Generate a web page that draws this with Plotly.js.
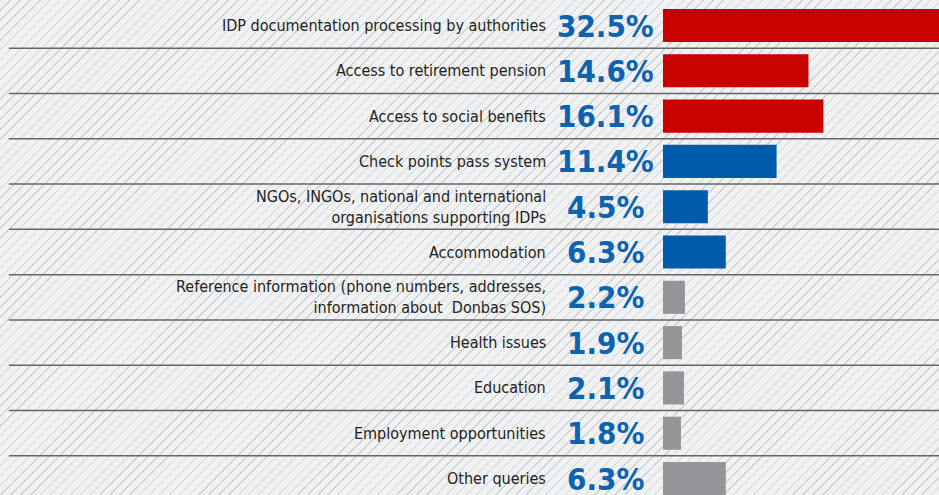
<!DOCTYPE html>
<html>
<head>
<meta charset="utf-8">
<script src="https://cdn.plot.ly/plotly-3.0.1.min.js"></script>
<style>
  html, body { margin: 0; padding: 0; }
  #plot {
    width: 939px;
    height: 495px;
    background-color: #f0f1f3;
    background-image: repeating-linear-gradient(135deg, #cfd0d2 0px, #cfd0d2 1px, rgba(0,0,0,0) 1px, rgba(0,0,0,0) 7px);
  }
</style>
</head>
<body>
<div id="plot"></div>
<script>
// topics of queries, top to bottom
const topics = [
  'IDP documentation processing by authorities',
  'Access to retirement pension',
  'Access to social benefits',
  'Check points pass system',
  'NGOs, INGOs, national and international<br>organisations supporting IDPs',
  'Accommodation',
  'Reference information (phone numbers, addresses,<br>information about  Donbas SOS)',
  'Health issues',
  'Education',
  'Employment opportunities',
  'Other queries'
];
const shares = [32.5, 14.6, 16.1, 11.4, 4.5, 6.3, 2.2, 1.9, 2.1, 1.8, 6.3];
const groups = ['red', 'red', 'red', 'blue', 'blue', 'blue', 'grey', 'grey', 'grey', 'grey', 'grey'];

const groupColors = { red: '#c80000', blue: '#005cab', grey: '#939598' };

const rows = topics.map((t, i) => i);

const trace = {
  type: 'bar',
  orientation: 'h',
  x: shares,
  y: rows,
  width: 0.73,
  marker: { color: groups.map(g => groupColors[g]), line: { width: 0 } },
  hoverinfo: 'skip'
};

const annotations = [];
rows.forEach(i => {
  annotations.push({
    xref: 'paper', yref: 'y',
    x: -0.417, y: i,
    xanchor: 'right', yanchor: 'middle', align: 'right',
    text: topics[i],
    showarrow: false,
    font: { family: 'DejaVu Sans Condensed, sans-serif', size: 16, color: '#231f20' }
  });
  annotations.push({
    xref: 'paper', yref: 'y',
    x: -0.210, y: i,
    xanchor: 'center', yanchor: 'middle',
    text: '<b>' + shares[i].toFixed(1) + '%</b>',
    showarrow: false,
    font: { family: 'DejaVu Sans Condensed, sans-serif', size: 31, color: '#0d63b0' }
  });
});

// row separators
const shapes = rows.slice(0, -1).map(i => ({
  type: 'line',
  xref: 'paper', yref: 'y',
  x0: -2.37, x1: 1.05,
  y0: i + 0.5, y1: i + 0.5,
  line: { color: '#65666a', width: 1.5 }
}));

const layout = {
  width: 939,
  height: 495,
  margin: { l: 663, r: 0, t: 0, b: 0, pad: 0 },
  paper_bgcolor: 'rgba(0,0,0,0)',
  plot_bgcolor: 'rgba(0,0,0,0)',
  showlegend: false,
  xaxis: { range: [0, 27.7], visible: false, fixedrange: true },
  yaxis: { range: [10.364, -0.563], visible: false, fixedrange: true },
  annotations: annotations,
  shapes: shapes
};

Plotly.newPlot('plot', [trace], layout, { displayModeBar: false, staticPlot: true });
</script>
</body>
</html>
